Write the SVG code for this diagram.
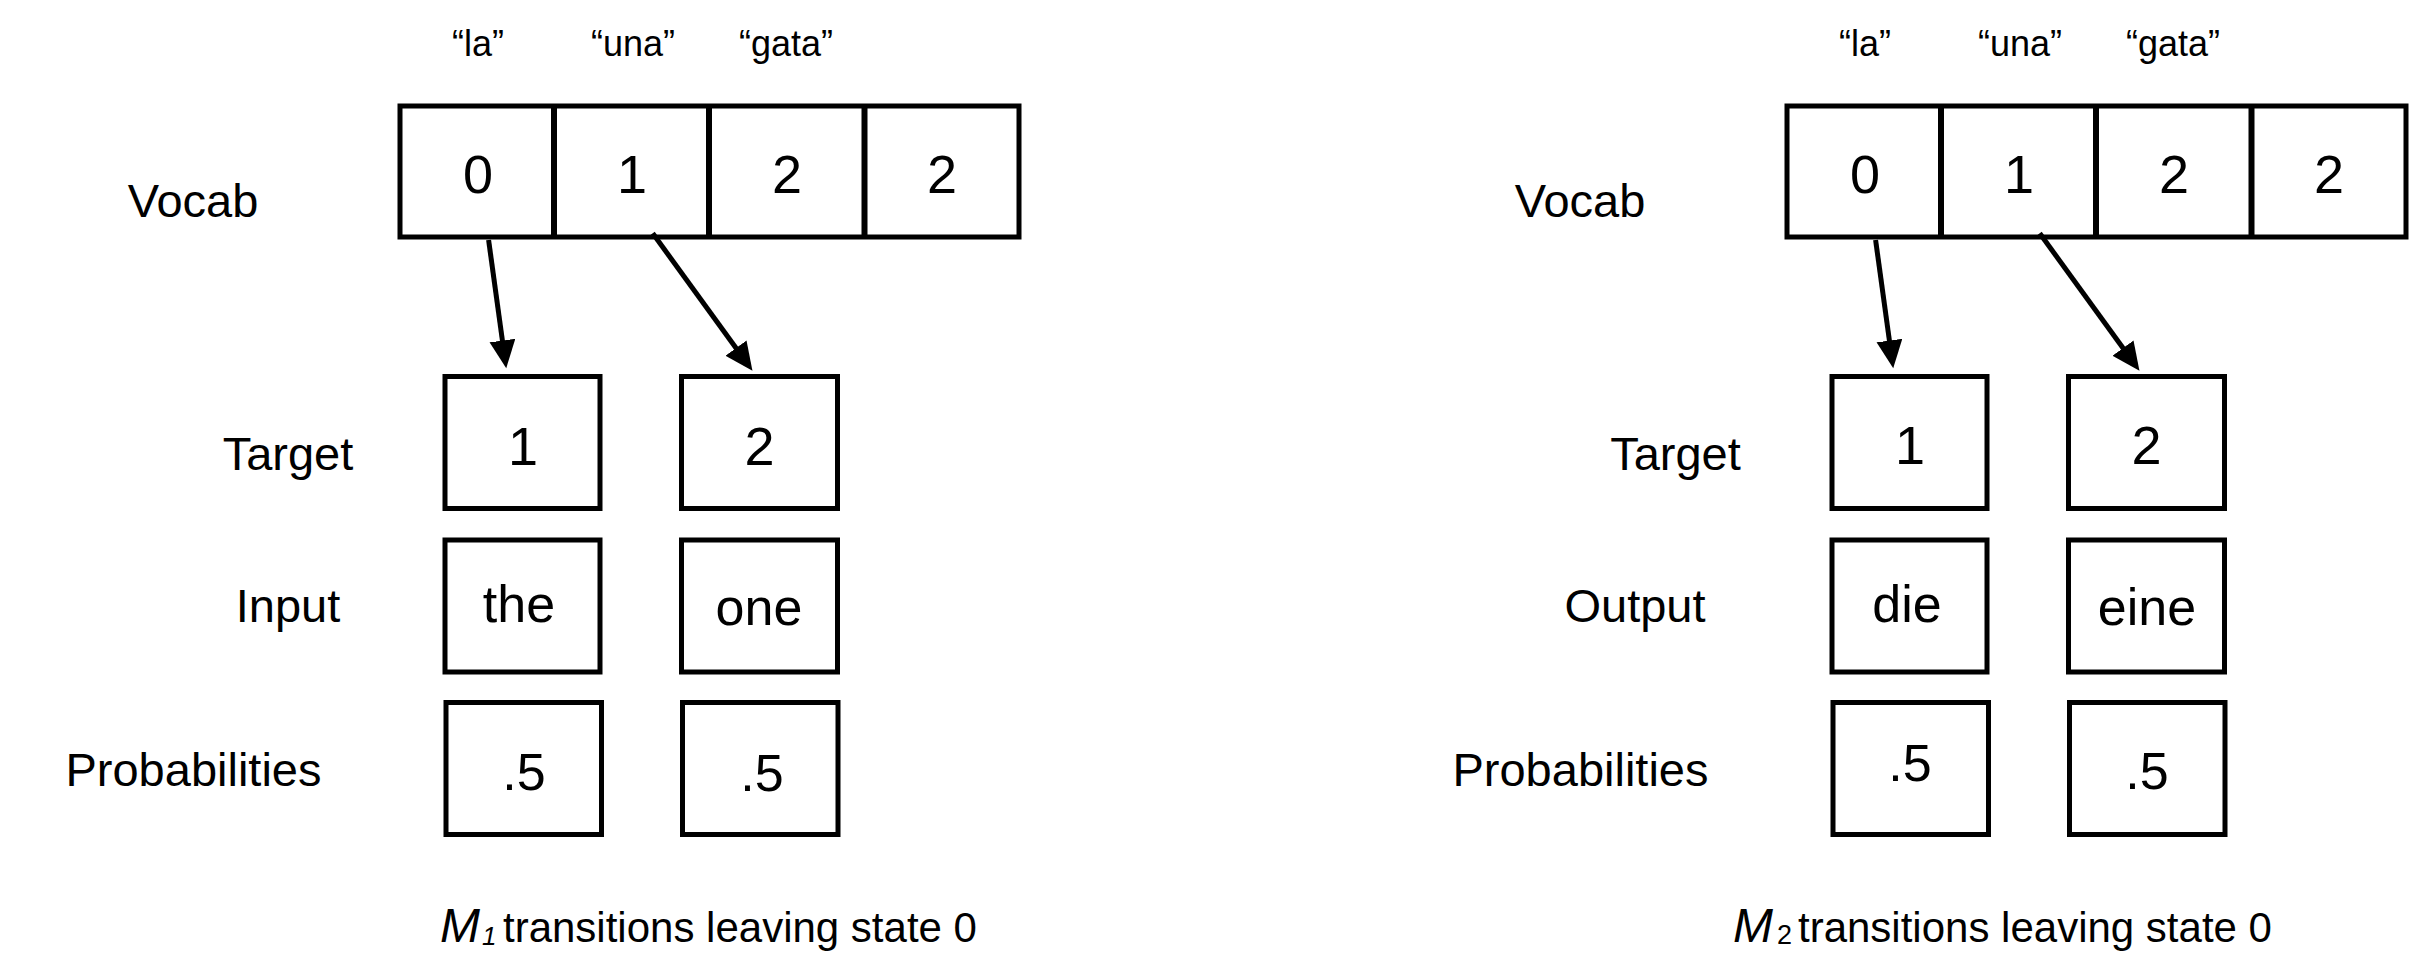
<svg xmlns="http://www.w3.org/2000/svg" width="2417" height="962" viewBox="0 0 2417 962">
  <style>
    .box { fill: #ffffff; stroke: #000000; stroke-width: 5; }
    .div { stroke: #000000; stroke-width: 6; }
    .edge { stroke: #000000; stroke-width: 5; fill: none; }
    text { font-family: "Liberation Sans", Arial, sans-serif; fill: #000000; }
    .num { font-size: 54px; text-anchor: middle; }
    .cell { font-size: 52px; text-anchor: middle; }
    .quote { font-size: 36px; text-anchor: middle; }
    .label { font-size: 47px; text-anchor: middle; }
    .caption { font-size: 42px; }
  </style>
  <defs>
    <marker id="ah" markerUnits="userSpaceOnUse" markerWidth="30" markerHeight="28" refX="8" refY="13" orient="auto">
      <path d="M0,0 L28,13 L0,26 z" fill="#000000"/>
    </marker>
  </defs>
  <rect width="2417" height="962" fill="#ffffff"/>

  <!-- Model 1 -->
  <g id="m1-vocab-words">
    <text class="quote" x="478" y="56">“la”</text>
    <text class="quote" x="633" y="56">“una”</text>
    <text class="quote" x="786" y="56">“gata”</text>
  </g>
  <g id="m1-vocab">
    <text class="label" x="193" y="217">Vocab</text>
    <rect class="box" x="400" y="106" width="619" height="131"/>
    <line class="div" x1="554" y1="106" x2="554" y2="237"/>
    <line class="div" x1="709" y1="106" x2="709" y2="237"/>
    <line class="div" x1="864.5" y1="106" x2="864.5" y2="237"/>
    <text class="num" x="478" y="193">0</text>
    <text class="num" x="632" y="193">1</text>
    <text class="num" x="787" y="193">2</text>
    <text class="num" x="942" y="193">2</text>
  </g>
  <g id="m1-target">
    <text class="label" x="288" y="470">Target</text>
    <rect class="box" x="445" y="376.5" width="155" height="132"/>
    <text class="num" x="523" y="465">1</text>
    <rect class="box" x="681.5" y="376.5" width="156" height="132"/>
    <text class="num" x="759.5" y="465">2</text>
  </g>
  <g id="m1-input">
    <text class="label" x="288" y="622">Input</text>
    <rect class="box" x="445" y="540" width="155" height="132"/>
    <text class="cell" x="519" y="622">the</text>
    <rect class="box" x="681.5" y="540" width="156" height="132"/>
    <text class="cell" x="759" y="625">one</text>
  </g>
  <g id="m1-probabilities">
    <text class="label" x="193.5" y="786">Probabilities</text>
    <rect class="box" x="446" y="702.5" width="155.5" height="132"/>
    <text class="cell" x="524" y="790">.5</text>
    <rect class="box" x="682.5" y="702.5" width="155.5" height="132"/>
    <text class="cell" x="762" y="791">.5</text>
  </g>
  <g id="m1-caption">
    <text class="caption" y="941.5"><tspan x="440" font-size="48" font-style="italic">M</tspan><tspan x="482" dy="3" font-size="26" font-style="italic">1</tspan><tspan x="503" dy="-3">transitions leaving state 0</tspan></text>
  </g>

  <!-- Model 2 -->
  <g id="m2-vocab-words">
    <text class="quote" x="1865" y="56">“la”</text>
    <text class="quote" x="2020" y="56">“una”</text>
    <text class="quote" x="2173" y="56">“gata”</text>
  </g>
  <g id="m2-vocab">
    <text class="label" x="1580" y="217">Vocab</text>
    <rect class="box" x="1787" y="106" width="619" height="131"/>
    <line class="div" x1="1941" y1="106" x2="1941" y2="237"/>
    <line class="div" x1="2096" y1="106" x2="2096" y2="237"/>
    <line class="div" x1="2251.5" y1="106" x2="2251.5" y2="237"/>
    <text class="num" x="1865" y="193">0</text>
    <text class="num" x="2019" y="193">1</text>
    <text class="num" x="2174" y="193">2</text>
    <text class="num" x="2329" y="193">2</text>
  </g>
  <g id="m2-target">
    <text class="label" x="1675.5" y="470">Target</text>
    <rect class="box" x="1832" y="376.5" width="155" height="132"/>
    <text class="num" x="1910" y="464">1</text>
    <rect class="box" x="2068.5" y="376.5" width="156" height="132"/>
    <text class="num" x="2146.5" y="464">2</text>
  </g>
  <g id="m2-output">
    <text class="label" x="1635" y="622">Output</text>
    <rect class="box" x="1832" y="540" width="155" height="132"/>
    <text class="cell" x="1907" y="622">die</text>
    <rect class="box" x="2068.5" y="540" width="156" height="132"/>
    <text class="cell" x="2147" y="625" font-size="47">eine</text>
  </g>
  <g id="m2-probabilities">
    <text class="label" x="1580.5" y="786">Probabilities</text>
    <rect class="box" x="1833" y="702.5" width="155.5" height="132"/>
    <text class="cell" x="1910" y="781">.5</text>
    <rect class="box" x="2069.5" y="702.5" width="155.5" height="132"/>
    <text class="cell" x="2147" y="789">.5</text>
  </g>
  <g id="m2-caption">
    <text class="caption" y="941.5"><tspan x="1733" font-size="48" font-style="italic">M</tspan><tspan x="1777" dy="2" font-size="27">2</tspan><tspan x="1798" dy="-2">transitions leaving state 0</tspan></text>
  </g>

  <!-- vocabulary entries pointing at their target states -->
  <g id="connectors">
    <line class="edge" x1="488.6" y1="240" x2="503.5" y2="348.5" marker-end="url(#ah)"/>
    <line class="edge" x1="652.7" y1="233.3" x2="740.7" y2="354.5" marker-end="url(#ah)"/>
    <line class="edge" x1="1875.6" y1="240" x2="1890.5" y2="348.5" marker-end="url(#ah)"/>
    <line class="edge" x1="2039.7" y1="233.3" x2="2127.7" y2="354.5" marker-end="url(#ah)"/>
  </g>
</svg>
